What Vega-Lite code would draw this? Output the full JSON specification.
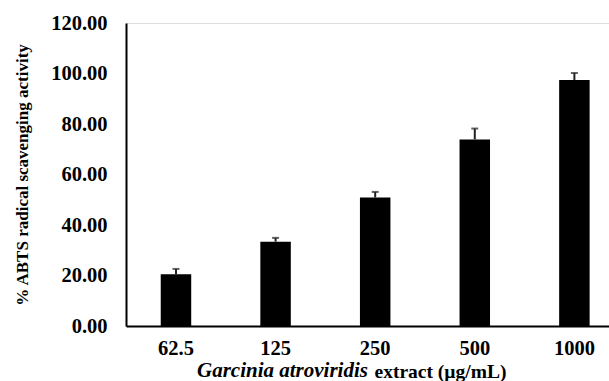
{
  "$schema": "https://vega.github.io/schema/vega-lite/v6.json",
  "autosize": {"type": "none"},
  "width": 483,
  "height": 303,
  "padding": {"left": 126, "top": 23, "right": 0, "bottom": 55},
  "background": "white",
  "title": {
    "text": "Garcinia atroviridis",
    "orient": "bottom",
    "anchor": "start",
    "frame": "group",
    "dx": 71,
    "offset": -4,
    "baseline": "alphabetic",
    "font": "Liberation Serif",
    "fontSize": 21,
    "fontWeight": "bold",
    "fontStyle": "italic",
    "color": "black"
  },
  "data": {
    "values": [
      {"conc": "62.5", "mean": 20.5, "upper": 22.6},
      {"conc": "125", "mean": 33.4, "upper": 34.9},
      {"conc": "250", "mean": 50.9, "upper": 53.1},
      {"conc": "500", "mean": 73.9, "upper": 78.2},
      {"conc": "1000", "mean": 97.4, "upper": 100.2}
    ]
  },
  "encoding": {
    "x": {
      "field": "conc",
      "type": "ordinal",
      "sort": null,
      "scale": {"paddingInner": 0.694, "paddingOuter": 0.2716, "align": 0.642},
      "axis": {
        "title": "extract (µg/mL)",
        "titleX": 248,
        "titleY": 51,
        "titleAlign": "left",
        "titleAnchor": null,
        "titleBaseline": "alphabetic",
        "titleFont": "Liberation Serif",
        "titleFontSize": 19.5,
        "titleFontWeight": "bold",
        "titleColor": "black",
        "labelAngle": 0,
        "labelFont": "Liberation Serif",
        "labelFontSize": 20.5,
        "labelFontWeight": "bold",
        "labelColor": "black",
        "labelPadding": 12,
        "ticks": false,
        "domainColor": "black",
        "domainWidth": 2,
        "grid": false
      }
    }
  },
  "layer": [
    {
      "mark": {"type": "bar", "color": "black"},
      "encoding": {
        "y": {
          "field": "mean",
          "type": "quantitative",
          "scale": {"domain": [0, 120], "nice": false},
          "axis": {
            "title": "% ABTS radical scavenging activity",
            "titleFont": "Liberation Serif",
            "titleFontSize": 17,
            "titleFontWeight": "bold",
            "titleColor": "black",
            "titlePadding": 19,
            "values": [0, 20, 40, 60, 80, 100, 120],
            "format": ".2f",
            "labelFont": "Liberation Serif",
            "labelFontSize": 20.5,
            "labelFontWeight": "bold",
            "labelColor": "black",
            "labelPadding": 19,
            "ticks": false,
            "grid": false,
            "domainColor": "black",
            "domainWidth": 2
          }
        }
      }
    },
    {
      "mark": {"type": "rule", "color": "#222222", "strokeWidth": 2},
      "encoding": {
        "y": {"field": "mean", "type": "quantitative"},
        "y2": {"field": "upper"}
      }
    },
    {
      "mark": {"type": "tick", "color": "#222222", "size": 7, "thickness": 2},
      "encoding": {
        "y": {"field": "upper", "type": "quantitative"}
      }
    }
  ]
}
